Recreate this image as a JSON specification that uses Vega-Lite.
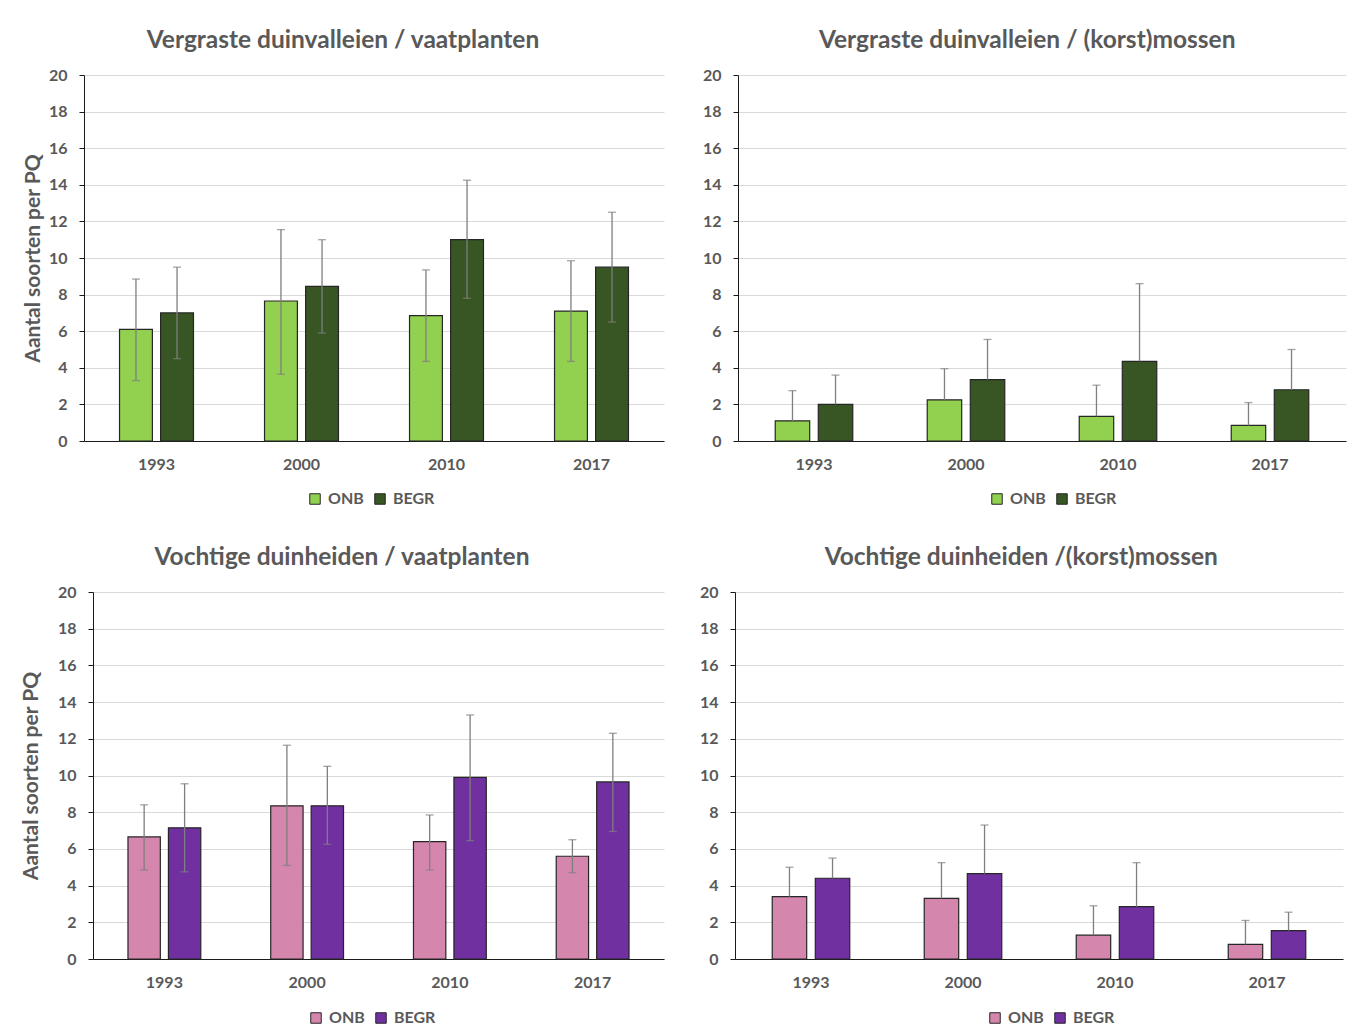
{
  "$schema": "https://vega.github.io/schema/vega-lite/v6.json",
  "background": "white",
  "padding": {"left": 20, "top": 27, "right": 5, "bottom": 5},
  "config": {
    "font": "Lato",
    "view": {"stroke": null},
    "axis": {"labelFont": "Lato", "labelFontWeight": "bold", "labelColor": "#595959", "labelFontSize": 16, "titleFont": "Lato", "titleFontWeight": "bold", "titleColor": "#595959", "titleFontSize": 21, "gridColor": "#d9d9d9", "gridWidth": 1, "domainColor": "#1a1a1a", "tickColor": "#1a1a1a"},
    "title": {"font": "Lato", "fontSize": 24.5, "fontWeight": "bold", "color": "#595959", "frame": "bounds", "anchor": "middle", "offset": 14},
    "legend": {"orient": "none", "direction": "horizontal", "title": null, "symbolType": "square", "symbolSize": 110, "symbolStrokeColor": "#262626", "symbolStrokeWidth": 1, "labelFont": "Lato", "labelFontSize": 16, "labelFontWeight": "bold", "labelColor": "#595959", "columnPadding": 8, "labelOffset": 5}
  },
  "datasets": {
    "d": [
      {"panel": "A", "year": "1993", "group": "ONB", "value": 6.1, "lo": 3.3, "hi": 8.85},
      {"panel": "A", "year": "1993", "group": "BEGR", "value": 7.0, "lo": 4.5, "hi": 9.5},
      {"panel": "A", "year": "2000", "group": "ONB", "value": 7.65, "lo": 3.65, "hi": 11.55},
      {"panel": "A", "year": "2000", "group": "BEGR", "value": 8.45, "lo": 5.9, "hi": 11.0},
      {"panel": "A", "year": "2010", "group": "ONB", "value": 6.85, "lo": 4.35, "hi": 9.35},
      {"panel": "A", "year": "2010", "group": "BEGR", "value": 11.0, "lo": 7.8, "hi": 14.25},
      {"panel": "A", "year": "2017", "group": "ONB", "value": 7.1, "lo": 4.35, "hi": 9.85},
      {"panel": "A", "year": "2017", "group": "BEGR", "value": 9.5, "lo": 6.5, "hi": 12.5},
      {"panel": "B", "year": "1993", "group": "ONB", "value": 1.1, "lo": 1.1, "hi": 2.75},
      {"panel": "B", "year": "1993", "group": "BEGR", "value": 2.0, "lo": 2.0, "hi": 3.6},
      {"panel": "B", "year": "2000", "group": "ONB", "value": 2.25, "lo": 2.25, "hi": 3.95},
      {"panel": "B", "year": "2000", "group": "BEGR", "value": 3.35, "lo": 3.35, "hi": 5.55},
      {"panel": "B", "year": "2010", "group": "ONB", "value": 1.35, "lo": 1.35, "hi": 3.05},
      {"panel": "B", "year": "2010", "group": "BEGR", "value": 4.35, "lo": 4.35, "hi": 8.6},
      {"panel": "B", "year": "2017", "group": "ONB", "value": 0.85, "lo": 0.85, "hi": 2.1},
      {"panel": "B", "year": "2017", "group": "BEGR", "value": 2.8, "lo": 2.8, "hi": 5.0},
      {"panel": "C", "year": "1993", "group": "ONB", "value": 6.65, "lo": 4.85, "hi": 8.4},
      {"panel": "C", "year": "1993", "group": "BEGR", "value": 7.15, "lo": 4.75, "hi": 9.55},
      {"panel": "C", "year": "2000", "group": "ONB", "value": 8.35, "lo": 5.1, "hi": 11.65},
      {"panel": "C", "year": "2000", "group": "BEGR", "value": 8.35, "lo": 6.25, "hi": 10.5},
      {"panel": "C", "year": "2010", "group": "ONB", "value": 6.4, "lo": 4.85, "hi": 7.85},
      {"panel": "C", "year": "2010", "group": "BEGR", "value": 9.9, "lo": 6.45, "hi": 13.3},
      {"panel": "C", "year": "2017", "group": "ONB", "value": 5.6, "lo": 4.7, "hi": 6.5},
      {"panel": "C", "year": "2017", "group": "BEGR", "value": 9.65, "lo": 6.95, "hi": 12.3},
      {"panel": "D", "year": "1993", "group": "ONB", "value": 3.4, "lo": 3.4, "hi": 5.0},
      {"panel": "D", "year": "1993", "group": "BEGR", "value": 4.4, "lo": 4.4, "hi": 5.5},
      {"panel": "D", "year": "2000", "group": "ONB", "value": 3.3, "lo": 3.3, "hi": 5.25},
      {"panel": "D", "year": "2000", "group": "BEGR", "value": 4.65, "lo": 4.65, "hi": 7.3},
      {"panel": "D", "year": "2010", "group": "ONB", "value": 1.3, "lo": 1.3, "hi": 2.9},
      {"panel": "D", "year": "2010", "group": "BEGR", "value": 2.85, "lo": 2.85, "hi": 5.25},
      {"panel": "D", "year": "2017", "group": "ONB", "value": 0.8, "lo": 0.8, "hi": 2.1},
      {"panel": "D", "year": "2017", "group": "BEGR", "value": 1.55, "lo": 1.55, "hi": 2.55}
    ]
  },
  "center": true,
  "spacing": 37,
  "resolve": {"scale": {"color": "independent", "x": "independent", "y": "independent", "xOffset": "independent"}, "legend": {"color": "independent"}},
  "vconcat": [
    {
      "spacing": 38,
      "resolve": {"scale": {"color": "independent", "x": "independent", "y": "independent", "xOffset": "independent"}, "legend": {"color": "independent"}},
      "hconcat": [
        {
          "title": "Vergraste duinvalleien / vaatplanten",
          "width": 580, "height": 366,
          "data": {"name": "d"},
          "transform": [{"filter": "datum.panel == 'A'"}],
          "encoding": {
            "x": {"field": "year", "type": "nominal", "scale": {"paddingInner": 0.49, "paddingOuter": 0.245}, "axis": {"title": null, "labelAngle": 0, "ticks": false, "labelPadding": 15}},
            "xOffset": {"field": "group", "type": "nominal", "sort": ["ONB", "BEGR"], "scale": {"paddingInner": 0.2}}
          },
          "layer": [
            {"mark": {"type": "bar", "stroke": "#262626", "strokeWidth": 1.2},
             "encoding": {
               "y": {"field": "value", "type": "quantitative", "scale": {"domain": [0, 20], "nice": false}, "axis": {"values": [0, 2, 4, 6, 8, 10, 12, 14, 16, 18, 20], "labelOverlap": false, "title": "Aantal soorten per PQ", "titleX": -41, "tickSize": 5, "labelPadding": 12, "grid": true}},
               "color": {"field": "group", "type": "nominal", "sort": ["ONB", "BEGR"], "scale": {"range": ["#92d050", "#375623"]}, "legend": {"legendX": 223, "legendY": 416}}
             }},
            {"mark": {"type": "rule", "color": "#7f7f7f", "strokeWidth": 1.3}, "encoding": {"y": {"field": "lo", "type": "quantitative", "axis": {"values": [0, 2, 4, 6, 8, 10, 12, 14, 16, 18, 20], "labelOverlap": false, "title": "Aantal soorten per PQ", "titleX": -41, "tickSize": 5, "labelPadding": 12, "grid": true}}, "y2": {"field": "hi"}}},
            {"mark": {"type": "tick", "color": "#7f7f7f", "thickness": 1.3, "size": 8}, "encoding": {"y": {"field": "hi", "type": "quantitative", "axis": {"values": [0, 2, 4, 6, 8, 10, 12, 14, 16, 18, 20], "labelOverlap": false, "title": "Aantal soorten per PQ", "titleX": -41, "tickSize": 5, "labelPadding": 12, "grid": true}}}},
            {"mark": {"type": "tick", "color": "#7f7f7f", "thickness": 1.3, "size": 8}, "encoding": {"y": {"field": "lo", "type": "quantitative", "axis": {"values": [0, 2, 4, 6, 8, 10, 12, 14, 16, 18, 20], "labelOverlap": false, "title": "Aantal soorten per PQ", "titleX": -41, "tickSize": 5, "labelPadding": 12, "grid": true}}}}
          ]
        },
        {
          "title": "Vergraste duinvalleien / (korst)mossen",
          "width": 614, "height": 366,
          "data": {"name": "d"},
          "transform": [{"filter": "datum.panel == 'B'"}],
          "encoding": {
            "x": {"field": "year", "type": "nominal", "scale": {"range": [0, 608], "paddingInner": 0.49, "paddingOuter": 0.245}, "axis": {"title": null, "labelAngle": 0, "ticks": false, "labelPadding": 15}},
            "xOffset": {"field": "group", "type": "nominal", "sort": ["ONB", "BEGR"], "scale": {"paddingInner": 0.2}}
          },
          "layer": [
            {"mark": {"type": "bar", "stroke": "#262626", "strokeWidth": 1.2},
             "encoding": {
               "y": {"field": "value", "type": "quantitative", "scale": {"domain": [0, 20], "nice": false}, "axis": {"values": [0, 2, 4, 6, 8, 10, 12, 14, 16, 18, 20], "labelOverlap": false, "title": null, "tickSize": 5, "labelPadding": 12, "grid": true}},
               "color": {"field": "group", "type": "nominal", "sort": ["ONB", "BEGR"], "scale": {"range": ["#92d050", "#375623"]}, "legend": {"legendX": 251, "legendY": 416}}
             }},
            {"mark": {"type": "rule", "color": "#7f7f7f", "strokeWidth": 1.3}, "encoding": {"y": {"field": "lo", "type": "quantitative", "axis": {"values": [0, 2, 4, 6, 8, 10, 12, 14, 16, 18, 20], "labelOverlap": false, "title": null, "tickSize": 5, "labelPadding": 12, "grid": true}}, "y2": {"field": "hi"}}},
            {"mark": {"type": "tick", "color": "#7f7f7f", "thickness": 1.3, "size": 8}, "encoding": {"y": {"field": "hi", "type": "quantitative", "axis": {"values": [0, 2, 4, 6, 8, 10, 12, 14, 16, 18, 20], "labelOverlap": false, "title": null, "tickSize": 5, "labelPadding": 12, "grid": true}}}}
          ]
        }
      ]
    },
    {
      "spacing": 35,
      "resolve": {"scale": {"color": "independent", "x": "independent", "y": "independent", "xOffset": "independent"}, "legend": {"color": "independent"}},
      "hconcat": [
        {
          "title": "Vochtige duinheiden / vaatplanten",
          "width": 571, "height": 367,
          "data": {"name": "d"},
          "transform": [{"filter": "datum.panel == 'C'"}],
          "encoding": {
            "x": {"field": "year", "type": "nominal", "scale": {"paddingInner": 0.49, "paddingOuter": 0.245}, "axis": {"title": null, "labelAngle": 0, "ticks": false, "labelPadding": 15}},
            "xOffset": {"field": "group", "type": "nominal", "sort": ["ONB", "BEGR"], "scale": {"paddingInner": 0.2}}
          },
          "layer": [
            {"mark": {"type": "bar", "stroke": "#262626", "strokeWidth": 1.2},
             "encoding": {
               "y": {"field": "value", "type": "quantitative", "scale": {"domain": [0, 20], "nice": false}, "axis": {"values": [0, 2, 4, 6, 8, 10, 12, 14, 16, 18, 20], "labelOverlap": false, "title": "Aantal soorten per PQ", "titleX": -52, "tickSize": 5, "labelPadding": 12, "grid": true}},
               "color": {"field": "group", "type": "nominal", "sort": ["ONB", "BEGR"], "scale": {"range": ["#d486ad", "#7030a0"]}, "legend": {"legendX": 215, "legendY": 418}}
             }},
            {"mark": {"type": "rule", "color": "#7f7f7f", "strokeWidth": 1.3}, "encoding": {"y": {"field": "lo", "type": "quantitative", "axis": {"values": [0, 2, 4, 6, 8, 10, 12, 14, 16, 18, 20], "labelOverlap": false, "title": "Aantal soorten per PQ", "titleX": -52, "tickSize": 5, "labelPadding": 12, "grid": true}}, "y2": {"field": "hi"}}},
            {"mark": {"type": "tick", "color": "#7f7f7f", "thickness": 1.3, "size": 8}, "encoding": {"y": {"field": "hi", "type": "quantitative", "axis": {"values": [0, 2, 4, 6, 8, 10, 12, 14, 16, 18, 20], "labelOverlap": false, "title": "Aantal soorten per PQ", "titleX": -52, "tickSize": 5, "labelPadding": 12, "grid": true}}}},
            {"mark": {"type": "tick", "color": "#7f7f7f", "thickness": 1.3, "size": 8}, "encoding": {"y": {"field": "lo", "type": "quantitative", "axis": {"values": [0, 2, 4, 6, 8, 10, 12, 14, 16, 18, 20], "labelOverlap": false, "title": "Aantal soorten per PQ", "titleX": -52, "tickSize": 5, "labelPadding": 12, "grid": true}}}}
          ]
        },
        {
          "title": "Vochtige duinheiden /(korst)mossen",
          "width": 602, "height": 367,
          "data": {"name": "d"},
          "transform": [{"filter": "datum.panel == 'D'"}],
          "encoding": {
            "x": {"field": "year", "type": "nominal", "scale": {"range": [0, 608], "paddingInner": 0.49, "paddingOuter": 0.245}, "axis": {"title": null, "labelAngle": 0, "ticks": false, "labelPadding": 15}},
            "xOffset": {"field": "group", "type": "nominal", "sort": ["ONB", "BEGR"], "scale": {"paddingInner": 0.2}}
          },
          "layer": [
            {"mark": {"type": "bar", "stroke": "#262626", "strokeWidth": 1.2},
             "encoding": {
               "y": {"field": "value", "type": "quantitative", "scale": {"domain": [0, 20], "nice": false}, "axis": {"values": [0, 2, 4, 6, 8, 10, 12, 14, 16, 18, 20], "labelOverlap": false, "title": null, "tickSize": 5, "labelPadding": 12, "grid": true}},
               "color": {"field": "group", "type": "nominal", "sort": ["ONB", "BEGR"], "scale": {"range": ["#d486ad", "#7030a0"]}, "legend": {"legendX": 252, "legendY": 418}}
             }},
            {"mark": {"type": "rule", "color": "#7f7f7f", "strokeWidth": 1.3}, "encoding": {"y": {"field": "lo", "type": "quantitative", "axis": {"values": [0, 2, 4, 6, 8, 10, 12, 14, 16, 18, 20], "labelOverlap": false, "title": null, "tickSize": 5, "labelPadding": 12, "grid": true}}, "y2": {"field": "hi"}}},
            {"mark": {"type": "tick", "color": "#7f7f7f", "thickness": 1.3, "size": 8}, "encoding": {"y": {"field": "hi", "type": "quantitative", "axis": {"values": [0, 2, 4, 6, 8, 10, 12, 14, 16, 18, 20], "labelOverlap": false, "title": null, "tickSize": 5, "labelPadding": 12, "grid": true}}}}
          ]
        }
      ]
    }
  ]
}
